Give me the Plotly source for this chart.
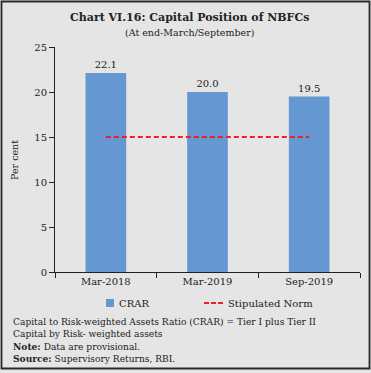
import plotly.graph_objects as go

categories = ["Mar-2018", "Mar-2019", "Sep-2019"]
crar = [22.1, 20.0, 19.5]
norm = [15, 15, 15]
crar_labels = ["22.1", "20.0", "19.5"]

W, H = 371, 373
ML, MR, MT, MB = 55, 11, 47, 101
PW, PH = W - ML - MR, H - MT - MB

def px(x):
    return (x - ML) / PW

def py(y):
    return (H - MB - y) / PH

BG = "#e5e5e5"
FONT = "DejaVu Serif"
TXT = "#222222"
BAR = "#6598d3"

fig = go.Figure()
fig.add_trace(go.Bar(
    x=categories, y=crar, name="CRAR", width=0.4,
    marker=dict(color=BAR, line=dict(width=0)),
    text=crar_labels, textposition="outside", cliponaxis=False,
    textfont=dict(family=FONT, size=10, color=TXT), showlegend=False,
))
fig.add_trace(go.Scatter(
    x=categories, y=norm, name="Stipulated Norm", mode="lines",
    line=dict(color="#e8212b", width=2, dash="5px,3px"), showlegend=False,
))

shapes = [
    dict(type="rect", xref="paper", yref="paper", x0=px(1.5), x1=px(369.5), y0=py(1.5), y1=py(368.5),
         line=dict(color="#2a2a2a", width=1.8), layer="below"),
    dict(type="rect", xref="paper", yref="paper", x0=px(106), x1=px(114), y0=py(307), y1=py(299),
         fillcolor=BAR, line=dict(width=0)),
    dict(type="line", xref="paper", yref="paper", x0=px(204), x1=px(223), y0=py(303), y1=py(303),
         line=dict(color="#e8212b", width=2, dash="5px,2px")),
]

ann = [
    dict(text="<b>Chart VI.16: Capital Position of NBFCs</b>", x=px(189), y=py(17), size=11),
    dict(text="(At end-March/September)", x=px(189), y=py(32), size=9.5),
    dict(text="CRAR", x=px(117), y=py(303), size=10, xanchor="left"),
    dict(text="Stipulated Norm", x=px(226), y=py(303), size=10, xanchor="left"),
    dict(text="Capital to Risk-weighted Assets Ratio (CRAR) = Tier I plus Tier II", x=px(11), y=py(322), size=9.1, xanchor="left"),
    dict(text="Capital by Risk- weighted assets", x=px(11), y=py(334), size=9.1, xanchor="left"),
    dict(text="<b>Note:</b> Data are provisional.", x=px(11), y=py(346), size=9.1, xanchor="left"),
    dict(text="<b>Source:</b> Supervisory Returns, RBI.", x=px(11), y=py(358), size=9.1, xanchor="left"),
]
annotations = []
for a in ann:
    annotations.append(dict(
        text=a["text"], x=a["x"], y=a["y"], xref="paper", yref="paper",
        xanchor=a.get("xanchor", "center"), yanchor="middle", showarrow=False,
        font=dict(family=FONT, size=a["size"], color=TXT),
    ))
annotations.append(dict(
    text="Per cent", x=px(14), y=py(160), xref="paper", yref="paper", textangle=-90,
    xanchor="center", yanchor="middle", showarrow=False,
    font=dict(family=FONT, size=9.5, color=TXT),
))

fig.update_layout(
    width=W, height=H, margin=dict(l=ML, r=MR, t=MT, b=MB, pad=0),
    paper_bgcolor=BG, plot_bgcolor=BG,
    font=dict(family=FONT, size=10, color=TXT),
    shapes=shapes, annotations=annotations, showlegend=False,
    bargap=0.6,
)
fig.update_xaxes(
    automargin=False,
    showline=True, linecolor="#222", linewidth=1, ticks="outside", tickson="boundaries",
    ticklen=5, tickcolor="#222", showgrid=False, tickfont=dict(size=10, family=FONT, color=TXT),
    range=[-0.5, 2.5],
)
fig.update_yaxes(
    automargin=False,
    range=[0, 25], dtick=5, showline=True, linecolor="#222", linewidth=1, ticks="outside",
    ticklen=5, tickcolor="#222", showgrid=False, zeroline=False,
    tickfont=dict(size=10, family=FONT, color=TXT),
)

fig.write_html(
    "out.html",
    config={"displayModeBar": False},
    post_script="document.body.style.margin='0';document.body.style.overflow='hidden';",
)
